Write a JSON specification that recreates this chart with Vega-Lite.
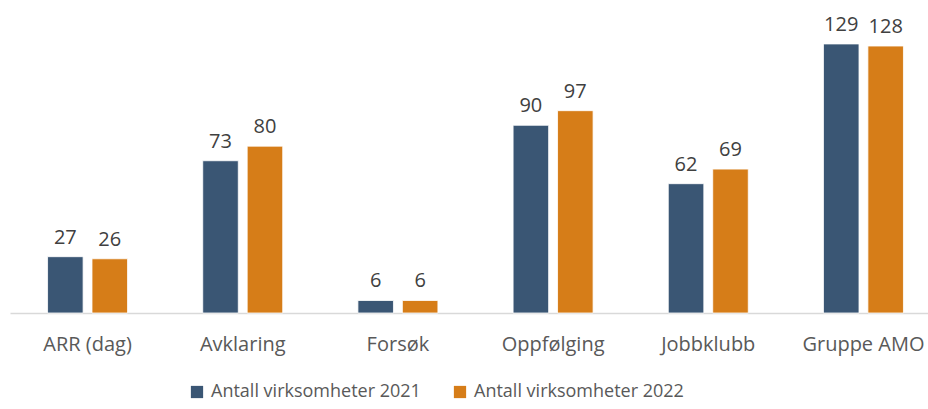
{
  "$schema": "https://vega.github.io/schema/vega-lite/v6.json",
  "autosize": {"type": "none"},
  "width": 931,
  "height": 292,
  "padding": {"left": 10, "top": 21, "right": 0, "bottom": 96},
  "background": "white",
  "config": {"view": {"stroke": null}, "font": "Open Sans"},
  "data": {"values": [
    {"kategori": "ARR (dag)", "serie": "Antall virksomheter 2021", "verdi": 27},
    {"kategori": "ARR (dag)", "serie": "Antall virksomheter 2022", "verdi": 26},
    {"kategori": "Avklaring", "serie": "Antall virksomheter 2021", "verdi": 73},
    {"kategori": "Avklaring", "serie": "Antall virksomheter 2022", "verdi": 80},
    {"kategori": "Forsøk", "serie": "Antall virksomheter 2021", "verdi": 6},
    {"kategori": "Forsøk", "serie": "Antall virksomheter 2022", "verdi": 6},
    {"kategori": "Oppfølging", "serie": "Antall virksomheter 2021", "verdi": 90},
    {"kategori": "Oppfølging", "serie": "Antall virksomheter 2022", "verdi": 97},
    {"kategori": "Jobbklubb", "serie": "Antall virksomheter 2021", "verdi": 62},
    {"kategori": "Jobbklubb", "serie": "Antall virksomheter 2022", "verdi": 69},
    {"kategori": "Gruppe AMO", "serie": "Antall virksomheter 2021", "verdi": 129},
    {"kategori": "Gruppe AMO", "serie": "Antall virksomheter 2022", "verdi": 128}
  ]},
  "encoding": {
    "x": {
      "field": "kategori", "type": "nominal", "sort": null,
      "scale": {"paddingInner": 0.4845, "paddingOuter": 0.242},
      "axis": {
        "title": null, "labelAngle": 0, "ticks": false,
        "domainColor": "#D9D9D9", "domainWidth": 1.5,
        "labelFontSize": 20, "labelColor": "#595959", "labelPadding": 21,
        "labelFont": "Open Sans", "labelLimit": 300
      }
    },
    "xOffset": {"field": "serie", "type": "nominal", "scale": {"paddingInner": 0.2, "paddingOuter": 0}},
    "y": {
      "field": "verdi", "type": "quantitative",
      "scale": {"domain": [0, 140], "nice": false},
      "axis": null
    }
  },
  "layer": [
    {
      "mark": {"type": "bar", "stroke": "white", "strokeWidth": 0.8},
      "encoding": {
        "color": {
          "field": "serie", "type": "nominal",
          "scale": {"range": ["#3A5674", "#D67D18"]},
          "legend": {
            "title": null, "orient": "none", "direction": "horizontal",
            "legendX": 178, "legendY": 362,
            "symbolType": "square", "symbolSize": 150, "symbolStrokeWidth": 0,
            "labelFontSize": 18, "labelColor": "#595959", "labelFont": "Open Sans",
            "labelLimit": 400, "columnPadding": 30, "labelOffset": 5
          }
        }
      }
    },
    {
      "mark": {"type": "text", "baseline": "alphabetic", "dy": -13, "fontSize": 20, "color": "#404040", "font": "Open Sans"},
      "encoding": {"text": {"field": "verdi", "type": "quantitative"}}
    }
  ]
}
